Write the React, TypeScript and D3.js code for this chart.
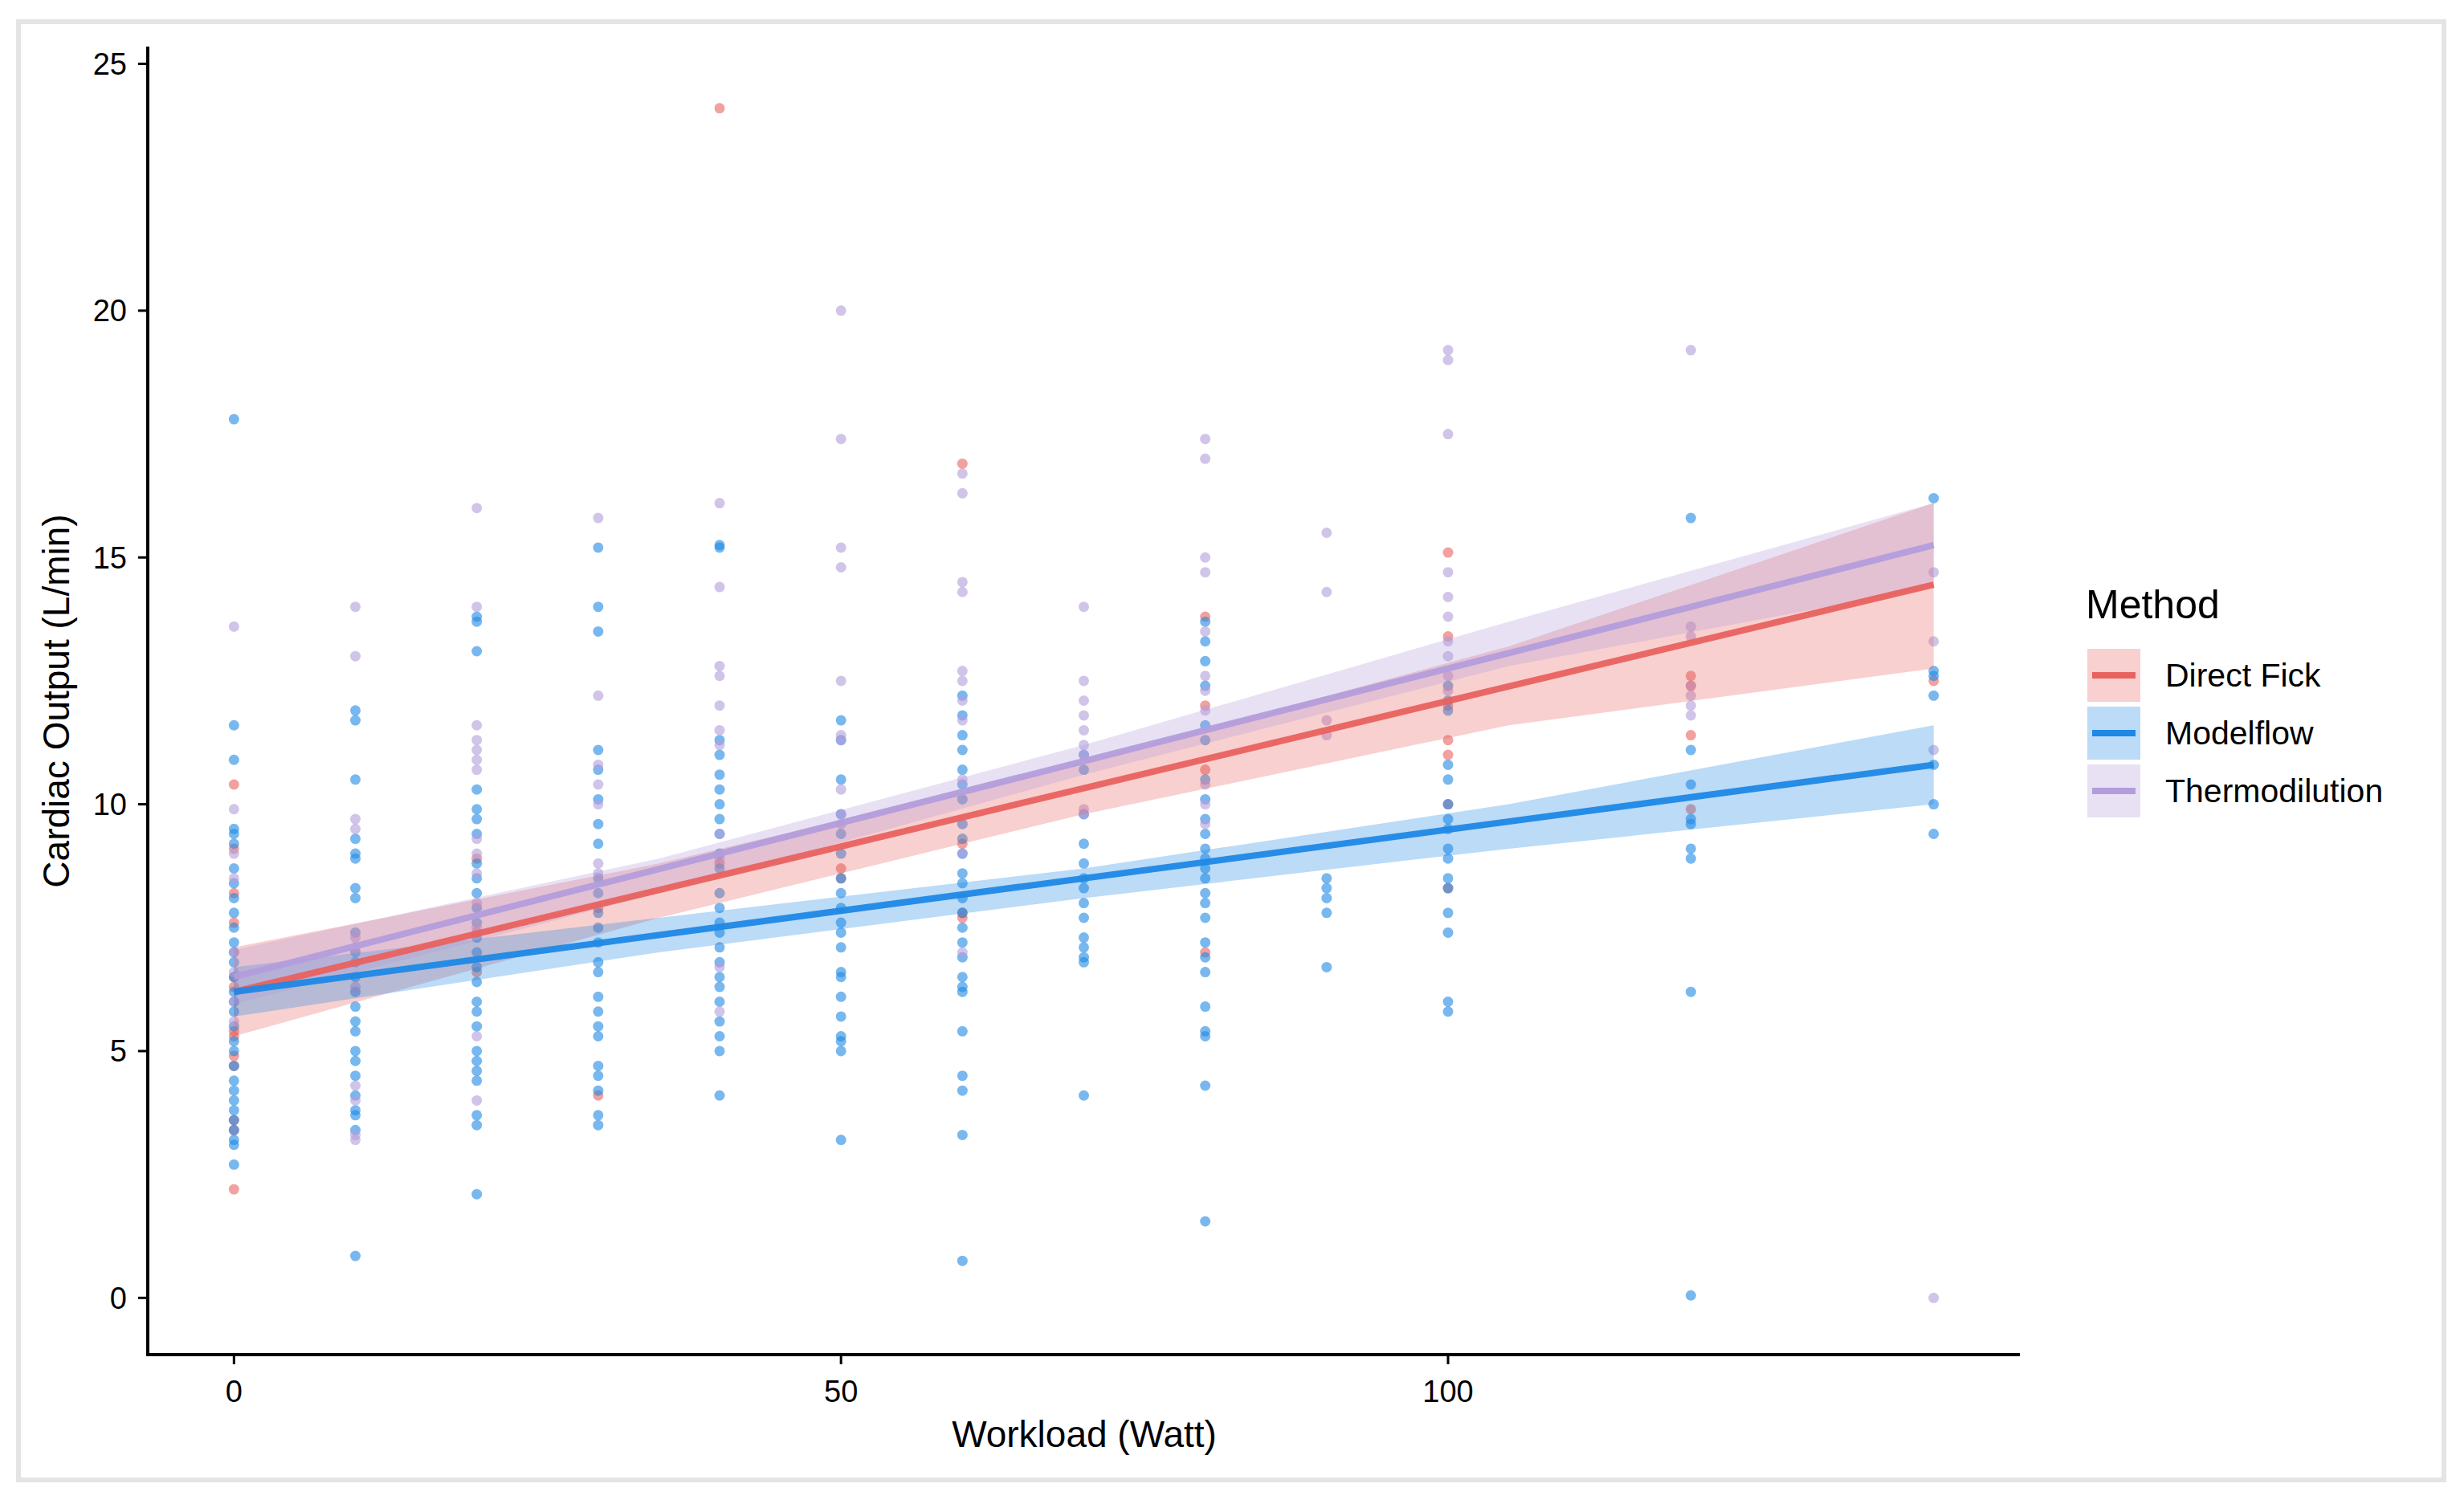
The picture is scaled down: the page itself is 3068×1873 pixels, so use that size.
import * as d3 from 'd3';

const methods = ['Direct Fick', 'Modelflow', 'Thermodilution'];
const colors = ['#E8625F', '#1E88E5', '#B39DDB'];
const xTicks = [0, 50, 100];
const yTicks = [0, 5, 10, 15, 20, 25];

// scatter: workload -> values per method
const dfPoints: [number, number[]][] = [
  [0, [10.4, 9.1, 8.2, 7.6, 6.5, 6.3, 5.4, 5.3, 4.9, 4.7, 3.6, 3.4, 2.2]],
  [20, [8.9, 7.4, 6.6]],
  [30, [4.1, 7.9]],
  [40, [24.1, 8.8]],
  [50, [8.5, 8.7]],
  [60, [16.9, 9.2, 7.8, 7.7]],
  [80, [13.8, 12.0, 10.7, 7.0]],
  [100, [15.1, 13.4, 12.0, 11.3, 11.0, 10.0, 8.3]],
  [120, [12.6, 12.4, 11.4, 9.9]],
  [140, [12.5]],
];
const mfPoints: [number, number[]][] = [
  [0, [17.8, 11.6, 10.9, 9.5, 9.4, 9.2, 8.7, 8.4, 8.1, 7.8, 7.5, 7.2, 7.0, 6.8, 6.5, 6.2, 6.0, 5.8, 5.5, 5.2, 5.0, 4.7, 4.4, 4.2, 4.0, 3.8, 3.6, 3.4, 3.2, 3.1, 2.7]],
  [10, [11.9, 11.7, 10.5, 9.3, 9.0, 8.9, 8.3, 8.1, 7.4, 7.0, 6.8, 6.5, 6.2, 5.9, 5.6, 5.4, 5.0, 4.8, 4.5, 4.1, 3.8, 3.7, 3.4, 0.85]],
  [20, [13.8, 13.7, 13.1, 10.3, 9.9, 9.7, 9.4, 8.8, 8.5, 8.2, 7.9, 7.6, 7.3, 7.0, 6.7, 6.4, 6.0, 5.8, 5.5, 5.0, 4.8, 4.6, 4.4, 3.7, 3.5, 2.1]],
  [30, [15.2, 14.0, 13.5, 11.1, 10.7, 10.1, 9.6, 9.2, 8.5, 8.2, 7.8, 7.5, 7.2, 6.8, 6.6, 6.1, 5.8, 5.5, 5.3, 4.7, 4.5, 4.2, 3.7, 3.5]],
  [40, [15.2, 15.25, 11.3, 11.0, 10.6, 10.3, 10.0, 9.7, 9.4, 9.0, 8.7, 8.2, 7.9, 7.6, 7.4, 7.1, 6.8, 6.5, 6.3, 6.0, 5.6, 5.3, 5.0, 4.1]],
  [50, [11.7, 11.3, 10.5, 9.8, 9.4, 9.0, 8.5, 8.2, 7.9, 7.6, 7.4, 7.1, 6.6, 6.5, 6.1, 5.7, 5.3, 5.2, 5.0, 3.2]],
  [60, [12.2, 11.8, 11.4, 11.1, 10.7, 10.4, 10.1, 9.6, 9.3, 9.0, 8.6, 8.4, 8.1, 7.8, 7.5, 7.2, 6.9, 6.5, 6.3, 6.2, 5.4, 4.5, 4.2, 3.3, 0.75]],
  [70, [11.0, 10.7, 9.8, 9.2, 8.8, 8.5, 8.3, 8.0, 7.7, 7.3, 7.1, 6.9, 6.8, 4.1]],
  [80, [13.7, 13.3, 12.9, 12.4, 11.6, 11.3, 10.5, 10.1, 9.7, 9.4, 9.1, 8.9, 8.7, 8.5, 8.2, 8.0, 7.7, 7.2, 6.9, 6.6, 5.9, 5.4, 5.3, 4.3, 1.55]],
  [90, [8.5, 8.3, 8.1, 7.8, 6.7]],
  [100, [12.4, 12.1, 11.9, 10.8, 10.5, 10.0, 9.7, 9.5, 9.1, 8.9, 8.5, 8.3, 7.8, 7.4, 6.0, 5.8]],
  [120, [15.8, 11.1, 10.4, 9.7, 9.6, 9.1, 8.9, 6.2, 0.05]],
  [140, [16.2, 12.7, 12.6, 12.2, 10.8, 10.0, 9.4]],
];
const tdPoints: [number, number[]][] = [
  [0, [13.6, 9.9, 9.0, 8.5, 7.0, 6.6, 6.0, 5.6]],
  [10, [14.0, 13.0, 9.7, 9.5, 7.3, 7.1, 6.3, 4.3, 4.0, 3.3, 3.2]],
  [20, [16.0, 14.0, 11.6, 11.3, 11.1, 10.9, 10.7, 9.3, 9.0, 8.6, 8.0, 7.5, 5.3, 4.0]],
  [30, [15.8, 12.2, 10.8, 10.4, 10.0, 8.8, 8.6]],
  [40, [16.1, 14.4, 12.8, 12.6, 12.0, 11.5, 11.2, 9.4, 8.9, 6.7, 5.8]],
  [50, [20.0, 17.4, 15.2, 14.8, 12.5, 11.4, 11.3, 10.3, 9.8, 9.6]],
  [60, [16.7, 16.3, 14.5, 14.3, 12.7, 12.5, 12.1, 11.7, 10.5, 9.0, 7.0]],
  [70, [14.0, 12.5, 12.1, 11.8, 11.5, 11.2, 11.0, 9.9, 9.8]],
  [80, [17.4, 17.0, 15.0, 14.7, 13.5, 12.6, 12.3, 11.9, 10.4, 10.0, 9.6]],
  [90, [15.5, 14.3, 11.7, 11.4]],
  [100, [19.2, 19.0, 17.5, 14.7, 14.2, 13.8, 13.3, 13.0, 12.6, 12.3]],
  [120, [19.2, 13.6, 13.4, 12.4, 12.2, 12.0, 11.8]],
  [140, [14.7, 13.3, 11.1, 0.0]],
];
const points = [dfPoints, mfPoints, tdPoints];

// fitted lines and confidence bands
const bandX = [0, 35, 70, 105, 140];
const fitLine = [[6.2, 14.45], [6.2, 10.8], [6.5, 15.25]];
const bandLower = [
  [5.3, 7.7, 9.8, 11.6, 12.75],
  [5.7, 7.0, 8.1, 9.1, 10.0],
  [5.95, 8.2, 10.6, 12.8, 14.4],
];
const bandUpper = [
  [7.1, 8.8, 10.85, 13.2, 16.1],
  [6.7, 7.7, 8.7, 10.0, 11.6],
  [7.05, 8.9, 11.2, 13.7, 16.1],
];

const W = 3068;
const H = 1873;
const font = '"Liberation Sans", Arial, sans-serif';

export default function App() {
  const x = d3.scaleLinear().domain([-7.1, 147.1]).range([184, 2515]);
  const y = d3.scaleLinear().domain([-1.15, 25.35]).range([1687, 58]);
  const area = d3.area<number>()
    .x((_, i) => x(bandX[i]));
  return (
    <svg width={W} height={H} style={{ position: 'absolute', left: 0, top: 0, background: '#fff' }}>
      <rect x={23} y={27} width={3020} height={1816} fill="#fff" stroke="#e4e4e4" strokeWidth={6} />
      {points.map((grp, m) => (
        <g key={m} fill={colors[m]} fillOpacity={0.6}>
          {grp.flatMap(([wx, vals]) => vals.map((v, j) => (
            <circle key={wx + '-' + j} cx={x(wx)} cy={y(v)} r={6.5} />
          )))}
        </g>
      ))}
      {methods.map((_, m) => (
        <path key={m}
          d={area.y0((_, i) => y(bandLower[m][i])).y1((_, i) => y(bandUpper[m][i]))(bandX) || ''}
          fill={colors[m]} fillOpacity={0.3} />
      ))}
      {methods.map((_, m) => (
        <line key={m} x1={x(0)} x2={x(140)} y1={y(fitLine[m][0])} y2={y(fitLine[m][1])}
          stroke={colors[m]} strokeWidth={8} strokeOpacity={0.95} />
      ))}
      {/* axes */}
      <line x1={184} x2={184} y1={58} y2={1689} stroke="#000" strokeWidth={4} />
      <line x1={182} x2={2515} y1={1687} y2={1687} stroke="#000" strokeWidth={4} />
      {yTicks.map(t => (
        <g key={t}>
          <line x1={172} x2={184} y1={y(t)} y2={y(t)} stroke="#000" strokeWidth={3} />
          <text x={158} y={y(t)} dy="0.35em" textAnchor="end" fontFamily={font} fontSize={38}>{t}</text>
        </g>
      ))}
      {xTicks.map(t => (
        <g key={t}>
          <line x1={x(t)} x2={x(t)} y1={1687} y2={1699} stroke="#000" strokeWidth={3} />
          <text x={x(t)} y={1746} textAnchor="middle" fontFamily={font} fontSize={38}>{t}</text>
        </g>
      ))}
      <text x={1350} y={1802} textAnchor="middle" fontFamily={font} fontSize={46}>Workload (Watt)</text>
      <text transform={`translate(86,873) rotate(-90)`} textAnchor="middle" fontFamily={font} fontSize={46}>Cardiac Output (L/min)</text>
      {/* legend */}
      <text x={2597} y={770} fontFamily={font} fontSize={50}>Method</text>
      {methods.map((name, m) => (
        <g key={name} transform={`translate(2599,${808 + m * 72})`}>
          <rect width={66} height={66} fill={colors[m]} fillOpacity={0.3} />
          <line x1={6} x2={60} y1={33} y2={33} stroke={colors[m]} strokeWidth={8} />
          <text x={97} y={33} dy="0.35em" fontFamily={font} fontSize={41}>{name}</text>
        </g>
      ))}
    </svg>
  );
}
